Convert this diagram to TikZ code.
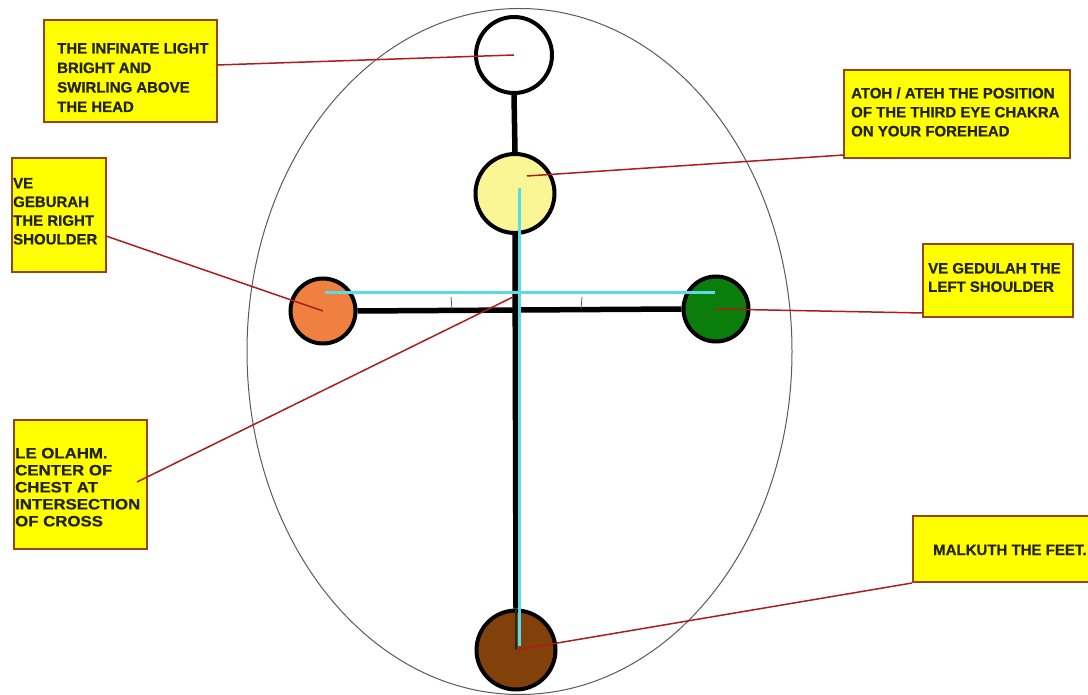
\documentclass[tikz,border=0pt]{standalone}
\usepackage{fontspec}
\usetikzlibrary{shapes.geometric}
\newfontfamily\lblfont{Liberation Sans}[FakeBold=0.6]
\newfontfamily\lblwide{Liberation Sans}[FakeStretch=1.12,FakeBold=0.6]
\definecolor{boxfill}{RGB}{255,255,0}
\definecolor{boxedge}{RGB}{150,70,20}
\definecolor{redline}{RGB}{170,30,30}
\definecolor{cyanline}{RGB}{90,220,230}
\definecolor{lightyel}{RGB}{250,246,150}
\definecolor{orangec}{RGB}{240,128,64}
\definecolor{greenc}{RGB}{10,125,10}
\definecolor{brownc}{RGB}{130,65,10}
\definecolor{txt}{RGB}{35,35,15}
\definecolor{ellc}{RGB}{90,90,90}
\begin{document}
\begin{tikzpicture}[x=1pt,y=-1pt,
  box/.style={draw=boxedge, fill=boxfill, line width=2pt, inner sep=0pt},
  lbl/.style={anchor=west, inner sep=0pt, align=left, text=txt,
    font={\lblfont\bfseries\fontsize{15}{19.5}\selectfont}},
  sphere/.style={circle, draw=black, line width=4pt, inner sep=0pt},
  bar/.style={line width=5.5pt, black},
  cyanbar/.style={line width=3pt, cyanline},
  conn/.style={line width=1.5pt, redline}]
\useasboundingbox (0,0) rectangle (1088,695);
\fill[white] (0,0) rectangle (1088,695);

% aura
\node[ellipse, draw=ellc, line width=1pt, minimum width=545, minimum height=686, inner sep=0pt] (aura) at (519.5,351.5) {};

% boxes
\node[box, minimum width=173, minimum height=102] (b1) at (130.5,71) {};
\node[box, minimum width=226, minimum height=88] (b2) at (957,114) {};
\node[box, minimum width=94, minimum height=114] (b3) at (59,215) {};
\node[box, minimum width=150, minimum height=73] (b4) at (998,280.5) {};
\node[box, minimum width=133, minimum height=129] (b5) at (80.5,484.5) {};
\node[box, minimum width=182, minimum height=66] (b6) at (1004,549) {};

% spheres
\node[sphere, fill=white, minimum size=76] (crown) at (514,55) {};
\node[sphere, fill=lightyel, minimum size=79] (brow) at (515,193.5) {};
\node[sphere, fill=orangec, minimum size=65] (rsh) at (323,311) {};
\node[sphere, fill=greenc, minimum size=65] (lsh) at (716,309) {};
\node[sphere, fill=brownc, minimum size=79] (feet) at (516,650) {};

% black cross
\draw[bar] (crown.south) -- (brow.north);
\draw[bar] (rsh.east) -- (lsh.west);
\draw[bar] (brow.south) -- (feet.north);
\draw[line width=2.5pt, black!85] (feet.north) -- (feet.center);

% cyan lines
\coordinate (cytop) at (519,188);
\coordinate (cybot) at (519,646);
\coordinate (cyl) at (325,293);
\coordinate (cyr) at (715,293);
\draw[cyanbar] (cytop) -- (cybot);
\draw[cyanbar] (cyl) -- (cyr);

% small ticks
\draw[ellc, line width=0.8pt] (451,297) -- (452,309);
\draw[ellc, line width=0.8pt] (582,297) -- (581,309);

% connectors
\coordinate (c1) at (217,65);
\coordinate (c2) at (844,155);
\coordinate (p2) at (527,176);
\coordinate (c3) at (106,236);
\coordinate (c4) at (923,313);
\coordinate (c5) at (137,482);
\coordinate (p5) at (513,297);
\draw[conn] (c1) -- (crown.center);
\draw[conn] (c2) -- (p2);
\draw[conn] (c3) -- (rsh.center);
\draw[conn] (lsh.center) -- (c4);
\draw[conn] (c5) -- (p5);
\draw[conn] (feet.center) -- (b6.south west);

% labels
\node[lbl] (t1) at (57,77.5) {THE INFINATE LIGHT\\BRIGHT AND\\SWIRLING ABOVE\\THE HEAD};
\node[lbl, font={\lblfont\bfseries\fontsize{15}{19}\selectfont}] (t2) at (851,112) {ATOH / ATEH THE POSITION\\OF THE THIRD EYE CHAKRA\\ON YOUR FOREHEAD};
\node[lbl, font={\lblfont\bfseries\fontsize{15}{18.7}\selectfont}] (t3) at (13,211.3) {VE\\GEBURAH\\THE RIGHT\\SHOULDER};
\node[lbl, font={\lblfont\bfseries\fontsize{15}{18.4}\selectfont}] (t4) at (928,277.5) {VE GEDULAH THE\\LEFT SHOULDER};
\node[lbl, font={\lblwide\bfseries\fontsize{15}{17}\selectfont}] (t5) at (15,487.2) {LE OLAHM.\\CENTER OF\\CHEST AT\\INTERSECTION\\OF CROSS};
\node[lbl] (t6) at (933,550) {MALKUTH THE FEET.};
\end{tikzpicture}
\end{document}
